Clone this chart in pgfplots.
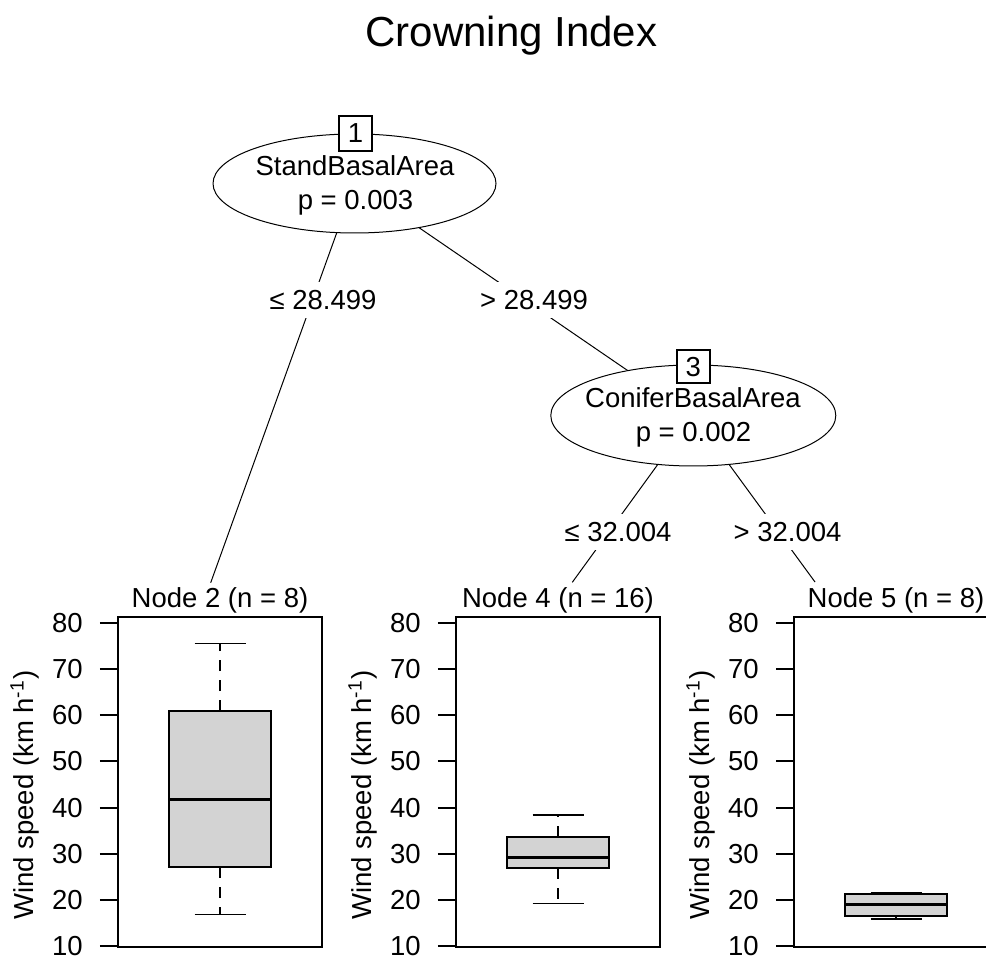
\documentclass[border=0pt]{standalone}
\usepackage{fontspec}
\setmainfont{Liberation Sans}
\usepackage{pgfplots}
\pgfplotsset{compat=1.18}
\usetikzlibrary{shapes.geometric}
\definecolor{boxgray}{HTML}{D3D3D3}
\newcommand\fs{\fontsize{13.75pt}{16pt}\selectfont}
\newcommand\fst{\fontsize{21pt}{25pt}\selectfont}

\pgfplotsset{
  panel/.style={
    scale only axis, width=102pt, height=165pt, anchor=south west,
    xmin=0, xmax=1, ymin=9.8, ymax=81.3,
    xtick=\empty, ytick={10,20,...,80}, ytick pos=left, tick align=outside,
    major tick length=9pt, every tick/.style={black, line width=1pt},
    axis line style={black, line width=1pt},
    /pgf/number format/assume math mode=true,
    yticklabel style={font=\fs, inner sep=0pt, xshift=-8.5pt},
    ylabel={Wind speed (km h\textsuperscript{-1})},
    ylabel style={font=\fs, at={(axis description cs:-0.456,0.46)}, anchor=center},
    title style={font=\fs, at={(axis description cs:0.5,1)}, anchor=base, yshift=-1.5pt, inner sep=0pt},
    clip=false,
  },
  boxst/.style={fill=boxgray, draw=black, line width=1pt},
  medst/.style={draw=black, line width=1.5pt},
  whisk/.style={draw=black, line width=0.7pt, dash pattern=on 5.5pt off 4.5pt},
  staple/.style={draw=black, line width=0.7pt},
}

\begin{document}
\begin{tikzpicture}
% ---- tree (layout in pixel units of the reference) ----
\begin{axis}[hide axis, scale only axis, width=493pt, height=477.5pt,
  xmin=0, xmax=986, ymin=-955, ymax=0, at={(0pt,0pt)}, anchor=south west, clip=false]
  \node[font=\fst, anchor=base] at (axis cs:511.5,-46.5) {Crowning Index};
  % edges
  \draw[line width=0.5pt] (axis cs:354.5,-183.5) -- (axis cs:210.7,-582.7);
  \draw[line width=0.5pt] (axis cs:354.5,-183.5) -- (axis cs:693.3,-415.5);
  \draw[line width=0.5pt] (axis cs:693.3,-415.5) -- (axis cs:572.3,-582.3);
  \draw[line width=0.5pt] (axis cs:693.3,-415.5) -- (axis cs:815,-582);
  % inner nodes
  \node[draw, ellipse, fill=white, line width=0.5pt, inner sep=0pt,
        minimum width=141.5pt, minimum height=49.5pt] at (axis cs:354.5,-183.5) {};
  \node[draw, ellipse, fill=white, line width=0.5pt, inner sep=0pt,
        minimum width=142.5pt, minimum height=50.5pt] at (axis cs:693.3,-415.5) {};
  \node[font=\fs, anchor=base] at (axis cs:355,-176) {StandBasalArea};
  \node[font=\fs, anchor=base] at (axis cs:355.5,-210) {p = 0.003};
  \node[font=\fs, anchor=base] at (axis cs:693,-408) {ConiferBasalArea};
  \node[font=\fs, anchor=base] at (axis cs:693.5,-441.7) {p = 0.002};
  \node[draw, fill=white, line width=0.8pt, font=\fs, inner sep=0pt,
        minimum width=16.5pt, minimum height=17.5pt] at (axis cs:355.5,-133.5) {1};
  \node[draw, fill=white, line width=0.8pt, font=\fs, inner sep=0pt,
        minimum width=16.5pt, minimum height=16.5pt] at (axis cs:693.3,-366.7) {3};
  % edge labels
  \node[fill=white, inner sep=0.5pt, minimum height=18pt, font=\fs] at (axis cs:323,-300) {≤ 28.499};
  \node[fill=white, inner sep=0.5pt, minimum height=18pt, font=\fs] at (axis cs:534,-300) {> 28.499};
  \node[fill=white, inner sep=0.5pt, minimum height=18pt, font=\fs] at (axis cs:618,-532) {≤ 32.004};
  \node[fill=white, inner sep=0.5pt, minimum height=18pt, font=\fs] at (axis cs:787.5,-532) {> 32.004};
\end{axis}

% ---- terminal node panels: whiskers, quartiles and median ----
\begin{axis}[panel, at={(59pt,4pt)}, title={Node 2 (n = 8)}]
  \addplot[boxst] coordinates {(0.25,27.1) (0.75,27.1) (0.75,60.9) (0.25,60.9)} -- cycle;
  \addplot[medst] coordinates {(0.25,41.8) (0.75,41.8)};
  \addplot[whisk] coordinates {(0.5,60.9) (0.5,75.6)};
  \addplot[whisk] coordinates {(0.5,27.1) (0.5,16.8)};
  \addplot[staple] coordinates {(0.375,75.6) (0.625,75.6)};
  \addplot[staple] coordinates {(0.375,16.8) (0.625,16.8)};
\end{axis}
\begin{axis}[panel, at={(228pt,4pt)}, title={Node 4 (n = 16)}]
  \addplot[boxst] coordinates {(0.25,26.9) (0.75,26.9) (0.75,33.6) (0.25,33.6)} -- cycle;
  \addplot[medst] coordinates {(0.25,29.3) (0.75,29.3)};
  \addplot[whisk] coordinates {(0.5,33.6) (0.5,38.4)};
  \addplot[whisk] coordinates {(0.5,26.9) (0.5,19.2)};
  \addplot[staple] coordinates {(0.375,38.4) (0.625,38.4)};
  \addplot[staple] coordinates {(0.375,19.2) (0.625,19.2)};
\end{axis}
\begin{axis}[panel, at={(397pt,4pt)}, title={Node 5 (n = 8)}]
  \addplot[boxst] coordinates {(0.25,16.5) (0.75,16.5) (0.75,21.2) (0.25,21.2)} -- cycle;
  \addplot[medst] coordinates {(0.25,19.1) (0.75,19.1)};
  \addplot[whisk] coordinates {(0.5,21.2) (0.5,21.5)};
  \addplot[whisk] coordinates {(0.5,16.5) (0.5,15.9)};
  \addplot[staple] coordinates {(0.375,21.5) (0.625,21.5)};
  \addplot[staple] coordinates {(0.375,15.9) (0.625,15.9)};
\end{axis}
\pgfresetboundingbox
\path[use as bounding box] (0pt,0pt) rectangle (493pt,477.5pt);
\end{tikzpicture}
\end{document}
